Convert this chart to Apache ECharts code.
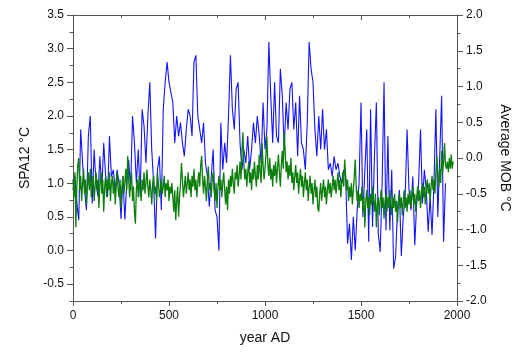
<!DOCTYPE html>
<html>
<head>
<meta charset="utf-8">
<script src="https://cdn.jsdelivr.net/npm/echarts@6/dist/echarts.min.js"></script>
<style>
html,body{margin:0;padding:0;background:#fff;}
#chart{width:520px;height:358px;}
</style>
</head>
<body>
<div id="chart"></div>
<script>
// SPA12 reconstruction (left axis, °C), sampled every 10 years from year 0
const blueStartYear = 0;
const blueStepYears = 10;
const blueSPA12 = [
  0.9, 1.1, 0.7, 0.45, 1.8, 1.3, 0.9, 0.6, 1.7, 2.0,
  0.7, 1.5, 1.0, 0.8, 1.4, 0.9, 1.6, 1.1, 0.8, 1.7,
  1.1, 1.2, 0.9, 1.2, 1.0, 0.47, 1.1, 0.46, 1.0, 1.35,
  0.9, 2.0, 1.6, 1.0, 1.5, 0.8, 2.1, 1.85, 1.3, 2.0,
  2.5, 1.5, 1.0, 0.18, 1.2, 1.4, 0.6, 2.1, 2.5, 2.8,
  2.5, 2.5, 2.2, 1.6, 2.0, 1.7, 1.9, 1.6, 1.4, 1.8,
  2.1, 2.0, 1.7, 2.8, 2.9, 2.0, 2.0, 1.6, 1.9, 1.3,
  1.1, 0.65, 1.1, 1.5, 0.6, 0.5, 0.0, 1.9, 1.2, 1.6,
  1.3, 2.0, 2.9, 2.1, 1.8, 2.4, 2.5, 1.6, 1.2, 1.5,
  1.3, 1.7, 1.2, 1.5, 1.9, 1.6, 2.0, 1.7, 1.3, 2.2,
  1.5, 1.8, 3.1, 2.3, 1.6, 2.5, 1.7, 1.6, 2.7, 2.3,
  1.5, 2.2, 1.8, 2.4, 2.5, 1.8, 2.2, 1.4, 2.3, 1.6,
  1.5, 1.2, 1.9, 3.1, 2.7, 2.5, 1.8, 1.4, 2.0, 1.5,
  2.1, 1.5, 1.8, 1.2, 1.3, 1.1, 1.4, 1.2, 1.3, 1.1,
  1.0, 1.2, 1.1, 0.1, 0.4, -0.14, 0.5, 0.0, 0.6, 1.0,
  2.2, 0.5, 1.2, 1.8, 0.13, 2.1, 0.35, 1.4, 2.2, 0.25,
  -0.02, 1.0, 2.5, 0.3, 1.7, 0.3, 1.2, -0.27, -0.1, 0.6,
  0.9, -0.08, 0.5, 0.8, 1.8, 0.9, 0.6, 1.1, 0.08, 0.7,
  1.0, 1.8, 0.7, 1.2, 0.9, 0.28, 0.8, 0.23, 1.0, 2.1,
  0.5, 1.4, 2.3, 0.13, 1.0
];

// Average MOB (right axis, °C), sampled every 5 years from year 0
const greenStartYear = 0;
const greenStepYears = 5;
const greenMOB = [
  -0.30,-0.55,-0.20,-0.97,-0.40,-0.10,0.00,-0.45,-0.25,-0.60,-0.35,-0.15,-0.50,-0.30,-0.65,-0.40,-0.20,-0.45,-0.15,-0.55,
  -0.35,-0.25,-0.60,-0.40,-0.20,-0.45,-0.30,-0.70,-0.35,-0.20,-0.50,-0.30,-0.75,-0.40,-0.25,-0.55,-0.30,-0.45,-0.20,-0.60,
  -0.35,-0.25,-0.50,-0.30,-0.65,-0.40,-0.20,-0.45,-0.55,-0.30,-0.70,-0.40,-0.25,-0.50,-0.35,-0.15,-0.45,0.03,-0.30,-0.55,
  -0.35,-0.20,-0.60,-0.40,-0.75,-0.92,-0.45,-0.30,-0.55,-0.25,-0.40,-0.60,-0.30,-0.45,-0.20,-0.50,-0.35,-0.16,-0.40,-0.55,
  -0.30,-0.45,-0.65,-0.35,-0.25,-0.50,-0.40,-0.60,-0.21,-0.35,-0.55,-0.45,-0.30,-0.50,-0.40,-0.25,-0.55,-0.35,-0.45,-0.30,
  -0.60,-0.40,-0.50,-0.35,-0.55,-0.75,-0.45,-0.87,-0.60,-0.40,-0.82,-0.55,-0.35,-0.07,-0.30,-0.55,-0.40,-0.25,-0.50,-0.35,
  -0.20,-0.45,-0.30,-0.55,-0.25,-0.40,-0.15,-0.45,-0.30,-0.55,-0.35,-0.20,-0.40,-0.10,0.03,-0.30,-0.50,-0.25,-0.40,-0.60,
  -0.30,-0.12,-0.45,-0.35,-0.55,-0.30,-0.20,-0.45,-0.60,-0.35,-0.70,-0.40,-0.25,-0.45,-0.30,-0.55,-0.35,-0.20,-0.45,-0.65,
  -0.40,-0.73,-0.30,-0.50,-0.25,-0.40,-0.15,-0.35,-0.50,-0.20,-0.30,-0.10,-0.40,-0.25,-0.05,-0.30,0.10,0.36,-0.10,-0.30,
  -0.15,-0.40,-0.20,-0.05,-0.35,-0.20,-0.45,-0.15,-0.30,-0.05,-0.25,-0.40,-0.10,-0.30,0.05,-0.20,-0.35,0.21,-0.10,-0.30,
  -0.15,0.05,0.30,-0.10,-0.25,0.00,-0.30,-0.15,-0.40,-0.10,-0.25,-0.05,-0.35,-0.15,0.05,-0.20,-0.40,-0.10,0.10,-0.15,
  0.36,0.10,-0.20,-0.05,-0.30,-0.10,-0.25,0.00,-0.35,-0.20,-0.45,-0.25,-0.10,-0.35,-0.20,-0.50,-0.30,-0.15,-0.40,-0.25,
  -0.55,-0.35,-0.20,-0.45,-0.30,-0.60,-0.40,-0.25,-0.50,-0.35,-0.65,-0.45,-0.30,-0.55,-0.40,-0.70,-0.75,-0.50,-0.35,-0.60,
  -0.45,-0.30,-0.55,-0.40,-0.65,-0.45,-0.30,-0.50,-0.35,-0.55,-0.40,-0.25,-0.45,-0.30,-0.50,-0.35,-0.20,-0.45,-0.30,-0.55,
  -0.35,-0.20,-0.40,-0.02,-0.25,-0.45,-0.30,-0.60,-0.40,-0.55,-0.35,-0.65,-0.45,-0.25,-0.02,-0.40,-0.60,-0.45,-0.70,-0.50,
  -0.60,-0.40,-0.75,-0.55,-0.97,-0.60,-0.45,-0.70,-0.55,-0.80,-0.50,-0.65,-0.40,-0.60,-0.75,-0.50,-0.97,-0.65,-0.55,-0.80,
  -0.60,-0.45,-0.70,-0.55,-0.85,-0.60,-0.50,-0.75,-0.55,-0.70,-0.45,-0.65,-0.80,-0.55,-0.70,-0.50,-0.75,-0.60,-0.90,-0.65,
  -0.50,-0.70,-0.55,-0.80,-0.60,-0.45,-0.70,-0.55,-0.75,-0.50,-0.65,-0.45,-0.70,-0.55,-0.40,-0.65,-0.50,-0.75,-0.55,-0.40,
  -0.60,-0.45,-0.70,-0.50,-0.35,-0.55,-0.40,-0.65,-0.45,-0.30,-0.50,-0.35,-0.60,-0.40,-0.25,-0.45,-0.30,-0.50,-0.20,0.03,
  -0.25,-0.40,-0.15,-0.35,0.10,-0.20,-0.05,0.21,-0.10,-0.15,-0.05,-0.20,0.00,-0.15,0.05,-0.15,-0.05
];

// Axis tick values
const xTicks = [0, 500, 1000, 1500, 2000];
const leftMajorTicks = [-0.5, 0, 0.5, 1.0, 1.5, 2.0, 2.5, 3.0, 3.5];
const leftMinorTicks = [-0.75, -0.25, 0.25, 0.75, 1.25, 1.75, 2.25, 2.75, 3.25];
const rightTicks = [-2.0, -1.5, -1.0, -0.5, 0.0, 0.5, 1.0, 1.5, 2.0];

const blueData = blueSPA12.map((v, i) => [blueStartYear + i * blueStepYears, v]);
const greenData = greenMOB.map((v, i) => [greenStartYear + i * greenStepYears, v]);

const FONT = 'Liberation Sans, Arial, Helvetica, sans-serif';
const AXC = '#555';
const TXT = '#111';

const chart = echarts.init(document.getElementById('chart'), null, {renderer: 'canvas'});
chart.setOption({
  animation: false,
  backgroundColor: '#fff',
  grid: {left: 73, right: 63, top: 15, bottom: 57, containLabel: false},
  xAxis: [
    {
      type: 'value', min: xTicks[0], max: xTicks[xTicks.length - 1], interval: 500, position: 'bottom',
      axisLine: {show: true, onZero: false, lineStyle: {color: AXC, width: 1}},
      axisTick: {show: true, length: 5, lineStyle: {color: AXC}},
      minorTick: {show: true, splitNumber: 2, length: 3, lineStyle: {color: AXC}},
      splitLine: {show: false},
      axisLabel: {color: TXT, fontSize: 12, fontFamily: FONT, margin: 9, formatter: v => String(v)},
      name: 'year AD', nameLocation: 'middle', nameGap: 30,
      nameTextStyle: {color: TXT, fontSize: 14, fontFamily: FONT}
    },
    {
      type: 'value', min: xTicks[0], max: xTicks[xTicks.length - 1], interval: 500, position: 'top',
      axisLine: {show: true, onZero: false, lineStyle: {color: AXC, width: 1}},
      axisTick: {show: true, inside: true, length: 5, lineStyle: {color: AXC}},
      minorTick: {show: true, splitNumber: 2, length: 3, lineStyle: {color: AXC}},
      splitLine: {show: false},
      axisLabel: {show: false}
    }
  ],
  yAxis: [
    {
      type: 'value', min: -0.75, max: 3.5, position: 'left',
      axisLine: {show: true, onZero: false, lineStyle: {color: AXC, width: 1}},
      axisTick: {show: true, length: 6, customValues: leftMajorTicks, lineStyle: {color: AXC}},
      splitLine: {show: false},
      axisLabel: {color: TXT, fontSize: 12, fontFamily: FONT, margin: 9, customValues: leftMajorTicks,
        formatter: v => v.toFixed(1)},
      name: 'SPA12 °C', nameLocation: 'middle', nameGap: 35, nameRotate: 90,
      nameTextStyle: {color: TXT, fontSize: 14, fontFamily: FONT}
    },
    {
      type: 'value', min: rightTicks[0], max: rightTicks[rightTicks.length - 1], interval: 0.5, position: 'right',
      axisLine: {show: true, onZero: false, lineStyle: {color: AXC, width: 1}},
      axisTick: {show: true, length: 6, lineStyle: {color: AXC}},
      minorTick: {show: true, splitNumber: 2, length: 3.5, lineStyle: {color: AXC}},
      splitLine: {show: false},
      axisLabel: {color: TXT, fontSize: 12, fontFamily: FONT, margin: 9, formatter: v => v.toFixed(1)},
      name: 'Average MOB °C', nameLocation: 'middle', nameGap: 32, nameRotate: -90,
      nameTextStyle: {color: TXT, fontSize: 14, fontFamily: FONT}
    },
    {
      type: 'value', min: -0.75, max: 3.5, position: 'left',
      axisLine: {show: false, onZero: false},
      axisTick: {show: true, length: 3.5, customValues: leftMinorTicks, lineStyle: {color: AXC}},
      splitLine: {show: false},
      axisLabel: {show: false}
    }
  ],
  series: [
    {
      name: 'SPA12', type: 'line', xAxisIndex: 0, yAxisIndex: 0, data: blueData,
      showSymbol: false, symbol: 'none', z: 2,
      lineStyle: {color: '#1414ff', width: 1.1}
    },
    {
      name: 'Average MOB', type: 'line', xAxisIndex: 0, yAxisIndex: 1, data: greenData,
      showSymbol: false, symbol: 'none', z: 3,
      lineStyle: {color: '#0d7d0d', width: 1.3}
    }
  ]
});
</script>
</body>
</html>
